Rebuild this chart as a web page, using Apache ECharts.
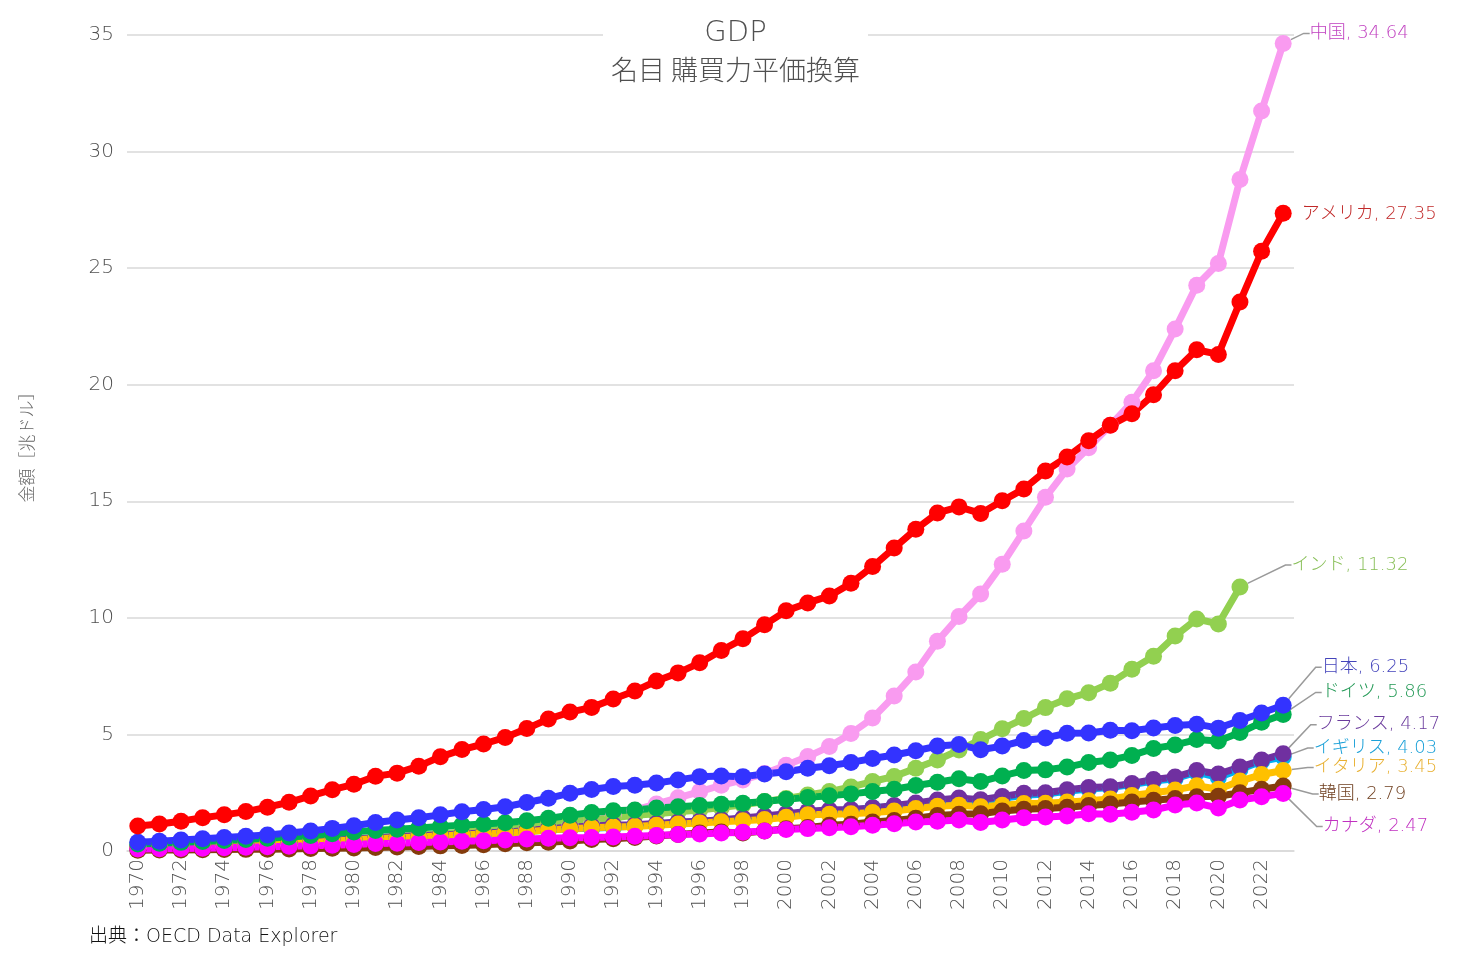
<!DOCTYPE html>
<html>
<head>
<meta charset="utf-8">
<script src="https://cdn.jsdelivr.net/npm/echarts@6/dist/echarts.min.js"></script>
<style>
html,body{margin:0;padding:0;background:#fff;}
#chart{width:1471px;height:961px;}
</style>
</head>
<body>
<div id="chart"></div>
<script>
const years = ['1970','1971','1972','1973','1974','1975','1976','1977','1978','1979',
  '1980','1981','1982','1983','1984','1985','1986','1987','1988','1989',
  '1990','1991','1992','1993','1994','1995','1996','1997','1998','1999',
  '2000','2001','2002','2003','2004','2005','2006','2007','2008','2009',
  '2010','2011','2012','2013','2014','2015','2016','2017','2018','2019',
  '2020','2021','2022','2023'];

const china = [0.12,0.13,0.14,0.16,0.17,0.19,0.20,0.22,0.25,0.28,
  0.31,0.35,0.40,0.46,0.55,0.64,0.72,0.83,0.95,1.03,
  1.12,1.28,1.50,1.75,2.02,2.28,2.55,2.82,3.05,3.32,
  3.68,4.05,4.48,5.04,5.70,6.65,7.68,9.00,10.06,11.02,
  12.30,13.73,15.17,16.38,17.30,18.26,19.25,20.60,22.39,24.27,
  25.20,28.80,31.74,34.64];
const usa = [1.07,1.16,1.28,1.43,1.55,1.69,1.88,2.09,2.36,2.63,
  2.86,3.21,3.34,3.64,4.04,4.35,4.59,4.87,5.25,5.66,
  5.96,6.16,6.52,6.86,7.29,7.64,8.07,8.60,9.10,9.70,
  10.30,10.64,10.94,11.48,12.20,13.00,13.80,14.50,14.76,14.48,
  15.02,15.53,16.30,16.90,17.60,18.26,18.75,19.57,20.60,21.50,
  21.30,23.55,25.72,27.35];
const india = [0.20,0.22,0.23,0.26,0.29,0.32,0.34,0.38,0.42,0.44,
  0.50,0.57,0.62,0.69,0.74,0.81,0.87,0.94,1.06,1.16,
  1.27,1.33,1.43,1.53,1.60,1.68,1.76,1.86,1.98,2.12,
  2.25,2.40,2.55,2.75,2.98,3.20,3.55,3.90,4.33,4.78,
  5.24,5.68,6.15,6.53,6.79,7.20,7.80,8.35,9.22,9.95,
  9.74,11.32,null,null];
const japan = [0.38,0.42,0.47,0.53,0.58,0.63,0.69,0.77,0.86,0.97,
  1.08,1.22,1.33,1.43,1.55,1.68,1.78,1.90,2.08,2.26,
  2.48,2.64,2.77,2.82,2.92,3.05,3.19,3.22,3.19,3.30,
  3.40,3.55,3.66,3.80,3.97,4.12,4.30,4.50,4.57,4.34,
  4.50,4.74,4.85,5.05,5.06,5.18,5.16,5.28,5.38,5.44,
  5.27,5.60,5.92,6.25];
const germany = [0.30,0.33,0.37,0.41,0.45,0.49,0.55,0.60,0.66,0.74,
  0.82,0.88,0.93,0.99,1.05,1.11,1.16,1.21,1.30,1.40,
  1.53,1.65,1.73,1.76,1.84,1.90,1.95,2.00,2.05,2.12,
  2.22,2.30,2.37,2.45,2.55,2.65,2.81,2.95,3.10,2.98,
  3.22,3.45,3.48,3.60,3.80,3.90,4.10,4.40,4.55,4.78,
  4.72,5.08,5.52,5.86];
const uk = [0.17,0.18,0.20,0.23,0.25,0.27,0.30,0.33,0.37,0.41,
  0.45,0.50,0.54,0.58,0.62,0.67,0.71,0.77,0.84,0.90,
  0.95,0.98,1.02,1.07,1.13,1.19,1.25,1.32,1.38,1.44,
  1.53,1.62,1.68,1.75,1.85,1.92,2.03,2.13,2.20,2.13,
  2.26,2.39,2.44,2.56,2.66,2.72,2.85,3.00,3.10,3.38,
  3.15,3.50,3.85,4.03];
const france = [0.18,0.20,0.22,0.25,0.28,0.30,0.34,0.37,0.41,0.46,
  0.51,0.57,0.62,0.65,0.69,0.73,0.77,0.81,0.88,0.96,
  1.02,1.07,1.11,1.13,1.18,1.24,1.28,1.34,1.42,1.50,
  1.60,1.70,1.76,1.78,1.85,1.95,2.06,2.19,2.27,2.20,
  2.34,2.48,2.50,2.63,2.72,2.76,2.90,3.07,3.17,3.45,
  3.30,3.60,3.90,4.17];
const italy = [0.16,0.17,0.19,0.22,0.25,0.27,0.30,0.33,0.37,0.42,
  0.48,0.53,0.57,0.60,0.65,0.69,0.73,0.77,0.83,0.90,
  0.95,1.00,1.03,1.05,1.10,1.16,1.20,1.25,1.30,1.35,
  1.45,1.55,1.58,1.60,1.65,1.72,1.82,1.92,1.96,1.90,
  1.96,2.04,2.05,2.10,2.16,2.23,2.38,2.50,2.62,2.80,
  2.65,3.00,3.28,3.45];
const korea = [0.03,0.04,0.04,0.05,0.06,0.07,0.08,0.09,0.11,0.12,
  0.13,0.15,0.17,0.19,0.22,0.24,0.27,0.31,0.35,0.38,
  0.43,0.49,0.53,0.58,0.64,0.71,0.77,0.81,0.77,0.86,
  0.95,1.01,1.10,1.15,1.24,1.31,1.41,1.52,1.58,1.60,
  1.72,1.79,1.82,1.88,1.95,2.02,2.10,2.18,2.25,2.33,
  2.35,2.50,2.65,2.79];
const canada = [0.09,0.10,0.11,0.12,0.14,0.16,0.18,0.20,0.22,0.25,
  0.28,0.32,0.33,0.36,0.39,0.42,0.44,0.47,0.51,0.55,
  0.57,0.58,0.60,0.63,0.67,0.71,0.73,0.77,0.80,0.86,
  0.92,0.96,1.00,1.04,1.10,1.17,1.24,1.28,1.33,1.22,
  1.33,1.43,1.46,1.50,1.60,1.58,1.66,1.76,1.97,2.06,
  1.84,2.19,2.33,2.47];

const yTicks = [0,5,10,15,20,25,30,35];

// series: name, data, line colour, label colour, label offset (drawn order: later on top)
const seriesDefs = [
  {name:'中国', data:china, color:'#F99BF0', lc:'#C040C0', dx:18, dy:-10, line:true},
  {name:'インド', data:india, color:'#92D050', lc:'#86BE55', dx:43, dy:-22, line:true},
  {name:'イギリス', data:uk, color:'#00B0F0', lc:'#1AA0D8', dx:22, dy:-9, line:true},
  {name:'フランス', data:france, color:'#7030A0', lc:'#6A3A9C', dx:25, dy:-29, line:true},
  {name:'イタリア', data:italy, color:'#FFC000', lc:'#E8B030', dx:22, dy:-3, line:true},
  {name:'韓国', data:korea, color:'#843C0C', lc:'#6E3E1E', dx:27, dy:8, line:true},
  {name:'カナダ', data:canada, color:'#FF00FF', lc:'#C030C0', dx:31, dy:33, line:true},
  {name:'ドイツ', data:germany, color:'#00B050', lc:'#229955', dx:30, dy:-22, line:true},
  {name:'日本', data:japan, color:'#3333FF', lc:'#4444BB', dx:30, dy:-38, line:true},
  {name:'アメリカ', data:usa, color:'#FF0000', lc:'#C02828', dx:10, dy:1, line:false}
];

const FONT = '"DejaVu Sans", "Noto Sans CJK JP", sans-serif';
const JFONT = '"Noto Sans CJK JP", "DejaVu Sans", sans-serif';

function lastIndex(arr){
  for (let i = arr.length - 1; i >= 0; i--) if (arr[i] != null) return i;
  return -1;
}

const series = seriesDefs.map(function(d){
  const li = lastIndex(d.data);
  const ll = {show: d.line, length2: 6, lineStyle: {color: '#9a9a9a', width: 1.5}};
  return {
    name: d.name,
    type: 'line',
    data: d.data.map(function(v, i){
      if (i === li) {
        return {
          value: v,
          label: {
            show: true,
            position: 'right',
            distance: 0,
            formatter: d.name + ', ' + v.toFixed(2),
            color: d.lc,
            fontSize: 18,
            fontWeight: 200,
            fontFamily: FONT
          },
          labelLine: ll
        };
      }
      return v;
    }),
    symbol: 'circle',
    symbolSize: 17,
    showAllSymbol: true,
    connectNulls: false,
    lineStyle: {width: 7, color: d.color},
    itemStyle: {color: d.color},
    labelLine: ll,
    labelLayout: function(params){
      return {dx: d.dx, dy: d.dy};
    },
    emphasis: {disabled: true},
    animation: false
  };
});

const chart = echarts.init(document.getElementById('chart'), null, {renderer: 'canvas'});
chart.setOption({
  backgroundColor: '#fff',
  animation: false,
  title: {
    text: 'GDP',
    subtext: '名目 購買力平価換算',
    left: 'center',
    top: 15,
    padding: [4, 8, 4, 8],
    itemGap: 8,
    backgroundColor: '#fff',
    textStyle: {fontSize: 29, fontWeight: 200, color: '#505050', fontFamily: FONT},
    subtextStyle: {fontSize: 27, fontWeight: 300, color: '#505050', fontFamily: JFONT}
  },
  grid: {left: 127, right: 177, top: 35, bottom: 110, containLabel: false},
  xAxis: {
    type: 'category',
    data: years,
    boundaryGap: true,
    axisLine: {show: true, lineStyle: {color: '#d9d9d9', width: 1.5}},
    axisTick: {show: false},
    axisLabel: {interval: 1, rotate: 90, fontSize: 20, fontWeight: 200, color: '#505050', margin: 8, fontFamily: FONT}
  },
  yAxis: {
    type: 'value',
    min: yTicks[0],
    max: yTicks[yTicks.length - 1],
    interval: 5,
    name: '金額［兆ドル］',
    nameLocation: 'middle',
    nameGap: 92,
    nameRotate: 90,
    nameTextStyle: {fontSize: 17, fontWeight: 300, color: '#666', fontFamily: JFONT},
    axisLine: {show: false},
    axisTick: {show: false},
    axisLabel: {fontSize: 20, fontWeight: 200, color: '#505050', margin: 13, fontFamily: FONT},
    splitLine: {lineStyle: {color: '#d9d9d9', width: 1.5}}
  },
  graphic: [{
    type: 'text',
    left: 89,
    top: 928,
    style: {text: '出典：OECD Data Explorer', fontSize: 19, fontWeight: 200, fill: '#111', fontFamily: FONT}
  }],
  series: series
});
</script>
</body>
</html>
